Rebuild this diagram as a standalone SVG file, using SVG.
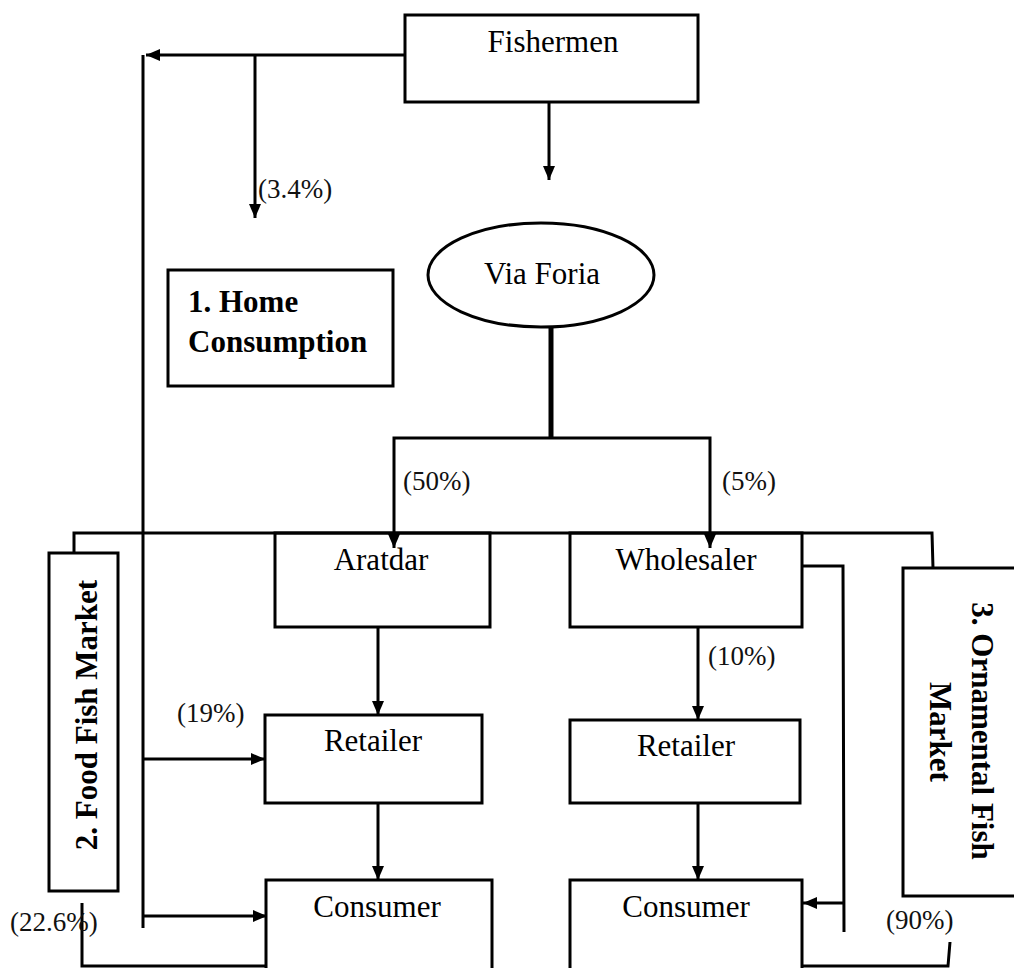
<svg xmlns="http://www.w3.org/2000/svg" width="1014" height="968" viewBox="0 0 1014 968">
<style>
.box{fill:#fff;stroke:#000;stroke-width:3}
.ln{fill:none;stroke:#000;stroke-width:3}
.t{font-family:"Liberation Serif","Times New Roman",serif;font-size:31px;fill:#000}
.b{font-family:"Liberation Serif","Times New Roman",serif;font-size:31px;font-weight:bold;fill:#000}
.p{font-family:"Liberation Serif","Times New Roman",serif;font-size:27px;fill:#111}
</style>
<defs>
<marker id="ah" markerUnits="userSpaceOnUse" markerWidth="16" markerHeight="14" refX="14" refY="6" orient="auto">
<path d="M0,0 L14,6 L0,12 Z" fill="#000"/>
</marker>
</defs>
<rect width="1014" height="968" fill="#fff"/>
<g id="fishermen">
<rect class="box" x="405" y="15" width="293" height="87"/>
<text class="t" x="553" y="52" text-anchor="middle">Fishermen</text>
</g>
<g id="via-foria">
<ellipse class="box" cx="541" cy="275" rx="113" ry="52"/>
<text class="t" x="542" y="284" text-anchor="middle">Via Foria</text>
</g>
<g id="home-consumption">
<rect class="box" x="168" y="270" width="225" height="116"/>
<text class="b" x="188" y="312">1. Home</text>
<text class="b" x="188" y="352">Consumption</text>
</g>
<g id="food-fish-market">
<rect class="box" x="49" y="553" width="69" height="338"/>
<text class="b" transform="translate(97,715) rotate(-90)" text-anchor="middle">2. Food Fish Market</text>
</g>
<g id="ornamental-fish-market">
<rect class="box" x="903" y="568" width="120" height="328"/>
<text class="b" transform="translate(972,731) rotate(90)" text-anchor="middle">3. Ornamental Fish</text>
<text class="b" transform="translate(930,732) rotate(90)" text-anchor="middle">Market</text>
</g>
<g id="aratdar">
<rect class="box" x="275" y="533" width="215" height="94"/>
<text class="t" x="381" y="570" text-anchor="middle">Aratdar</text>
</g>
<g id="wholesaler">
<rect class="box" x="570" y="533" width="232" height="94"/>
<text class="t" x="686" y="570" text-anchor="middle">Wholesaler</text>
</g>
<g id="retailer-left">
<rect class="box" x="265" y="715" width="217" height="88"/>
<text class="t" x="373" y="751" text-anchor="middle">Retailer</text>
</g>
<g id="retailer-right">
<rect class="box" x="570" y="720" width="230" height="83"/>
<text class="t" x="686" y="756" text-anchor="middle">Retailer</text>
</g>
<g id="consumer-left">
<rect class="box" x="266" y="880" width="226" height="110"/>
<text class="t" x="377" y="917" text-anchor="middle">Consumer</text>
</g>
<g id="consumer-right">
<rect class="box" x="570" y="880" width="232" height="110"/>
<text class="t" x="686" y="917" text-anchor="middle">Consumer</text>
</g>
<g id="connectors">
<polyline class="ln" points="405,55 146,55" marker-end="url(#ah)"/>
<line class="ln" x1="143" y1="55" x2="143" y2="928"/>
<line class="ln" x1="255" y1="55" x2="255" y2="218" marker-end="url(#ah)"/>
<line class="ln" x1="549" y1="102" x2="549" y2="180" marker-end="url(#ah)"/>
<line x1="551" y1="327" x2="551" y2="439" stroke="#000" stroke-width="5"/>
<polyline class="ln" points="551,438 394,438 394,548" marker-end="url(#ah)"/>
<polyline class="ln" points="551,438 710,438 710,548" marker-end="url(#ah)"/>
<polyline class="ln" points="74,553 74,533 932,533 933,568"/>
<line class="ln" x1="378" y1="627" x2="378" y2="715" marker-end="url(#ah)"/>
<line class="ln" x1="143" y1="759" x2="265" y2="759" marker-end="url(#ah)"/>
<line class="ln" x1="378" y1="803" x2="378" y2="880" marker-end="url(#ah)"/>
<line class="ln" x1="143" y1="916" x2="267" y2="916" marker-end="url(#ah)"/>
<polyline class="ln" points="82,903 82,966 267,966"/>
<line class="ln" x1="698" y1="627" x2="698" y2="720" marker-end="url(#ah)"/>
<line class="ln" x1="698" y1="803" x2="698" y2="880" marker-end="url(#ah)"/>
<polyline class="ln" points="802,566 843,566 844,932"/>
<line class="ln" x1="844" y1="903" x2="803" y2="903" marker-end="url(#ah)"/>
<polyline class="ln" points="803,966 948,966 950,942"/>
</g>
<g id="labels">
<text class="p" x="258" y="198">(3.4%)</text>
<text class="p" x="403" y="490">(50%)</text>
<text class="p" x="722" y="490">(5%)</text>
<text class="p" x="708" y="665">(10%)</text>
<text class="p" x="177" y="722">(19%)</text>
<text class="p" x="10" y="931">(22.6%)</text>
<text class="p" x="886" y="929">(90%)</text>
</g>
</svg>
